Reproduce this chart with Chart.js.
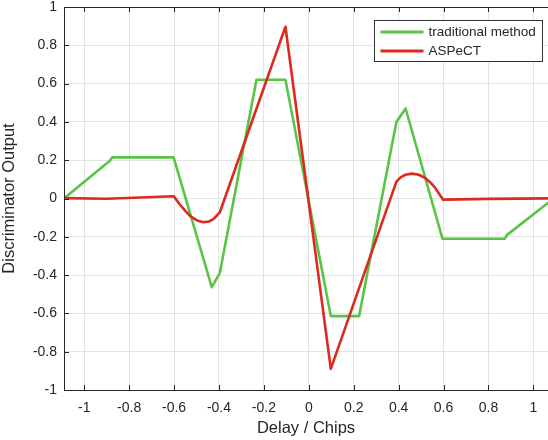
<!DOCTYPE html>
<html>
<head>
<meta charset="utf-8">
<script src="https://cdn.jsdelivr.net/npm/chart.js@4"></script>
<style>
  html, body { margin: 0; padding: 0; background: #ffffff; }
  #wrap { width: 548px; height: 440px; }
</style>
</head>
<body>
<div id="wrap"><canvas id="discChart" width="548" height="440"></canvas></div>
<script>
// traditional method (green)
const tradX = [-1.09, -0.886, -0.875, -0.602, -0.432, -0.396, -0.233, -0.104, 0.098, 0.224, 0.39, 0.431, 0.595, 0.873, 0.883, 1.09];
const tradY = [0, 0.197, 0.215, 0.215, -0.463, -0.388, 0.62, 0.62, -0.614, -0.614, 0.40, 0.47, -0.21, -0.21, -0.19, 0];

// ASPeCT (red)
const aspectX = [-1.09, -0.9, -0.601, -0.575, -0.55, -0.53, -0.5, -0.47, -0.445, -0.425, -0.41, -0.396,
  -0.104, 0.098, 0.39, 0.41, 0.43, 0.46, 0.49, 0.517, 0.54, 0.561, 0.58, 0.598, 0.8, 1.09];
const aspectY = [0.002, -0.001, 0.012, -0.03, -0.065, -0.09, -0.113, -0.124, -0.12, -0.108, -0.09, -0.072,
  0.897, -0.89, 0.088, 0.112, 0.124, 0.13, 0.124, 0.108, 0.085, 0.058, 0.025, -0.006, -0.002, 0.001];

const xTicks = [-1, -0.8, -0.6, -0.4, -0.2, 0, 0.2, 0.4, 0.6, 0.8, 1];
const yTicks = [-1, -0.8, -0.6, -0.4, -0.2, 0, 0.2, 0.4, 0.6, 0.8, 1];

const toPoints = (xs, ys) => xs.map((x, i) => ({ x: x, y: ys[i] }));
const fmt = (v) => String(Number(v.toFixed(2)));

const FONT = "'Liberation Sans', Arial, sans-serif";
const AXIS = "#262626";

const boxPlugin = {
  id: "matlabBox",
  afterDraw(chart) {
    const ctx = chart.ctx;
    const a = chart.chartArea;
    const xs = chart.scales.x;
    const ys = chart.scales.y;
    ctx.save();
    ctx.strokeStyle = AXIS;
    ctx.lineWidth = 1;
    // frame (right side is cut off in the reference)
    ctx.beginPath();
    ctx.moveTo(a.right, a.top + 0.5);
    ctx.lineTo(a.left + 0.5, a.top + 0.5);
    ctx.lineTo(a.left + 0.5, a.bottom + 0.5);
    ctx.lineTo(a.right, a.bottom + 0.5);
    ctx.stroke();
    // inward ticks
    ctx.beginPath();
    xTicks.forEach((v) => {
      const px = Math.round(xs.getPixelForValue(v)) + 0.5;
      ctx.moveTo(px, a.bottom);
      ctx.lineTo(px, a.bottom - 5);
      ctx.moveTo(px, a.top);
      ctx.lineTo(px, a.top + 5);
    });
    yTicks.forEach((v) => {
      const py = Math.round(ys.getPixelForValue(v)) + 0.5;
      ctx.moveTo(a.left, py);
      ctx.lineTo(a.left + 5, py);
    });
    ctx.stroke();

    // legend box
    const bw = 168, bh = 41;
    const bx = a.right - 6 - bw + 0.5;
    const by = a.top + 13 + 0.5;
    ctx.fillStyle = "#ffffff";
    ctx.fillRect(bx, by, bw, bh);
    ctx.strokeStyle = "#333333";
    ctx.strokeRect(bx, by, bw, bh);
    ctx.font = "13.5px " + FONT;
    ctx.textBaseline = "middle";
    chart.data.datasets.forEach((ds, i) => {
      const ly = by + 11.5 + i * 19;
      ctx.strokeStyle = ds.borderColor;
      ctx.lineWidth = 3;
      ctx.beginPath();
      ctx.moveTo(bx + 6, ly);
      ctx.lineTo(bx + 49, ly);
      ctx.stroke();
      ctx.fillStyle = AXIS;
      ctx.fillText(ds.label, bx + 54, ly + 0.5);
    });
    ctx.restore();
  },
};

new Chart(document.getElementById("discChart"), {
  type: "line",
  data: {
    datasets: [
      {
        label: "traditional method",
        data: toPoints(tradX, tradY),
        borderColor: "#5ac447",
        borderWidth: 2.6,
        order: 1,
      },
      {
        label: "ASPeCT",
        data: toPoints(aspectX, aspectY),
        borderColor: "#dc2a1f",
        borderWidth: 2.6,
        order: 0,
      },
    ],
  },
  options: {
    responsive: false,
    animation: false,
    layout: {
      padding: { top: 7, right: 0, left: 0, bottom: 0 },
    },
    elements: {
      point: { radius: 0, hoverRadius: 0 },
      line: { tension: 0, borderJoinStyle: "round", borderCapStyle: "round" },
    },
    plugins: {
      legend: { display: false },
      tooltip: { enabled: false },
    },
    scales: {
      x: {
        type: "linear",
        min: -1.09,
        max: 1.065,
        afterBuildTicks(scale) {
          scale.ticks = xTicks.map((v) => ({ value: v }));
        },
        afterFit(scale) {
          scale.height = 50;
          scale.paddingLeft = 0;
          scale.paddingRight = 0;
        },
        grid: {
          color: "#e3e3e3",
          drawTicks: false,
        },
        border: { display: false },
        ticks: {
          color: AXIS,
          font: { family: FONT, size: 14 },
          padding: 10,
          maxRotation: 0,
          callback: (v) => fmt(v),
        },
        title: {
          display: true,
          text: "Delay / Chips",
          color: AXIS,
          font: { family: FONT, size: 16.5 },
          padding: { top: 0, bottom: 2 },
        },
      },
      y: {
        min: -1,
        max: 1,
        afterBuildTicks(scale) {
          scale.ticks = yTicks.map((v) => ({ value: v }));
        },
        afterFit(scale) {
          scale.width = 64;
          scale.paddingTop = 0;
          scale.paddingBottom = 0;
        },
        grid: {
          color: "#e3e3e3",
          drawTicks: false,
        },
        border: { display: false },
        ticks: {
          color: AXIS,
          font: { family: FONT, size: 14 },
          padding: 7,
          callback: (v) => fmt(v),
        },
        title: {
          display: true,
          text: "Discriminator Output",
          color: AXIS,
          font: { family: FONT, size: 16.5 },
          padding: { top: 0, bottom: 7 },
        },
      },
    },
  },
  plugins: [boxPlugin],
});
</script>
</body>
</html>
